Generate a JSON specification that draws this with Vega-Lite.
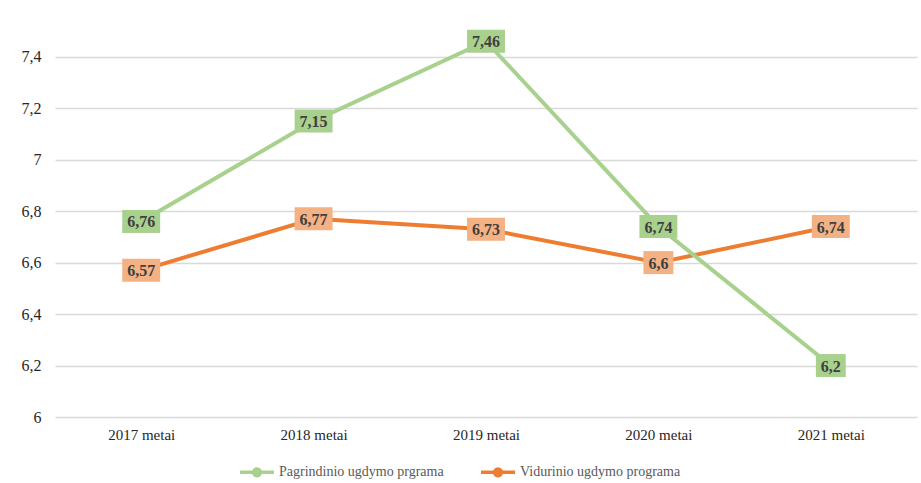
{
  "$schema": "https://vega.github.io/schema/vega-lite/v6.json",
  "width": 862,
  "height": 386,
  "autosize": {"type": "none"},
  "padding": {"left": 55, "top": 31, "right": 4, "bottom": 66},
  "background": "white",
  "config": {
    "view": {"stroke": null},
    "font": "'Times New Roman', 'Liberation Serif', serif",
    "axis": {"labelFont": "'Times New Roman', 'Liberation Serif', serif"},
    "legend": {"labelFont": "'Times New Roman', 'Liberation Serif', serif"},
    "text": {"font": "'Times New Roman', 'Liberation Serif', serif"},
    "locale": {"number": {"decimal": ",", "thousands": " ", "grouping": [3], "currency": ["", " €"]}}
  },
  "data": {
    "values": [
      {"year": "2017 metai", "series": "Vidurinio ugdymo programa", "value": 6.57},
      {"year": "2018 metai", "series": "Vidurinio ugdymo programa", "value": 6.77},
      {"year": "2019 metai", "series": "Vidurinio ugdymo programa", "value": 6.73},
      {"year": "2020 metai", "series": "Vidurinio ugdymo programa", "value": 6.6},
      {"year": "2021 metai", "series": "Vidurinio ugdymo programa", "value": 6.74},
      {"year": "2017 metai", "series": "Pagrindinio ugdymo prgrama", "value": 6.76},
      {"year": "2018 metai", "series": "Pagrindinio ugdymo prgrama", "value": 7.15},
      {"year": "2019 metai", "series": "Pagrindinio ugdymo prgrama", "value": 7.46},
      {"year": "2020 metai", "series": "Pagrindinio ugdymo prgrama", "value": 6.74},
      {"year": "2021 metai", "series": "Pagrindinio ugdymo prgrama", "value": 6.2}
    ]
  },
  "encoding": {
    "x": {
      "field": "year", "type": "ordinal",
      "scale": {"type": "point", "padding": 0.5},
      "axis": {"title": null, "domain": false, "ticks": false, "tickSize": 0, "labelAngle": 0, "labelFontSize": 15, "labelColor": "#262626", "labelPadding": 10, "labelFont": "'Times New Roman', 'Liberation Serif', serif"}
    },
    "y": {
      "field": "value", "type": "quantitative",
      "scale": {"domain": [6, 7.5], "nice": false, "zero": false},
      "axis": {"title": null, "domain": false, "ticks": false, "tickSize": 0, "values": [6, 6.2, 6.4, 6.6, 6.8, 7, 7.2, 7.4], "format": "~g", "labelFontSize": 16, "labelColor": "#262626", "labelPadding": 14, "gridColor": "#d9d9d9", "gridWidth": 1.5, "labelFont": "'Times New Roman', 'Liberation Serif', serif"}
    }
  },
  "layer": [
    {
      "mark": {"type": "line", "strokeWidth": 4, "strokeJoin": "round", "strokeCap": "round"},
      "encoding": {
        "color": {
          "field": "series", "type": "nominal",
          "scale": {"domain": ["Pagrindinio ugdymo prgrama", "Vidurinio ugdymo programa"], "range": ["#a9d18e", "#ed7d31"]},
          "legend": {
            "title": null, "orient": "none", "direction": "horizontal",
            "legendX": 183, "legendY": 422,
            "symbolType": "M -1 0 L 1 0 M 0.2 0 A 0.2 0.2 0 1 1 -0.2 0 A 0.2 0.2 0 1 1 0.2 0",
            "symbolSize": 1156, "symbolStrokeWidth": 3.5,
            "labelFontSize": 14, "labelColor": "#595959", "labelFont": "'Times New Roman', 'Liberation Serif', serif",
            "labelLimit": 400, "labelOffset": 3, "columnPadding": 30
          }
        }
      }
    },
    {
      "mark": {"type": "point", "filled": true, "opacity": 1, "size": 529, "strokeWidth": 0},
      "encoding": {
        "fill": {
          "field": "series", "type": "nominal",
          "scale": {"domain": ["Pagrindinio ugdymo prgrama", "Vidurinio ugdymo programa"], "range": ["#a9d18e", "#f4b183"]},
          "legend": null
        },
        "shape": {
          "condition": {"test": "datum.value * 10 == round(datum.value * 10)", "value": "M -1.3 -1 L 1.3 -1 L 1.3 1 L -1.3 1 Z"},
          "value": "M -1.65 -1 L 1.65 -1 L 1.65 1 L -1.65 1 Z"
        }
      }
    },
    {
      "mark": {"type": "text", "fontSize": 16, "fontWeight": "bold", "color": "#404040", "baseline": "middle", "align": "center", "font": "'Times New Roman', 'Liberation Serif', serif", "dy": 1},
      "encoding": {
        "text": {"field": "value", "type": "quantitative", "format": "~g"}
      }
    }
  ]
}
